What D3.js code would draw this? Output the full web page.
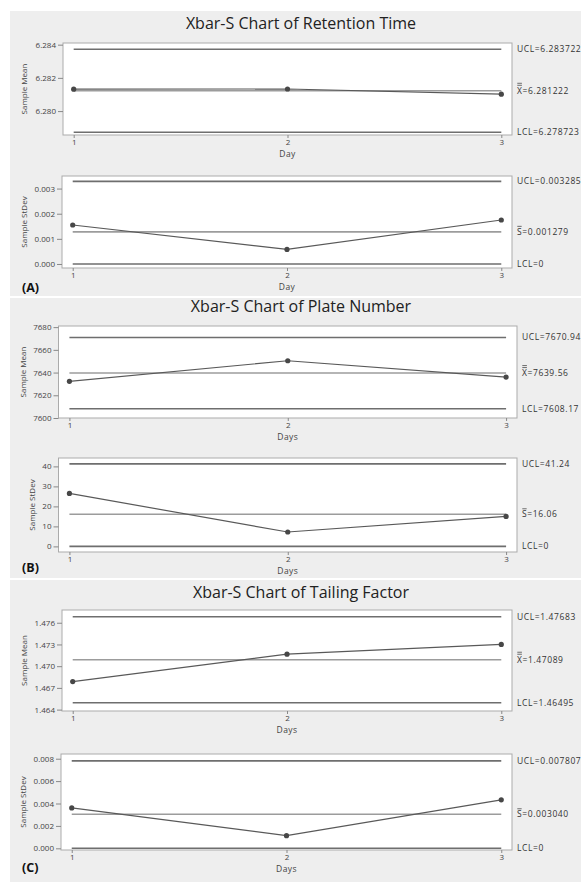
<!DOCTYPE html>
<html>
<head>
<meta charset="utf-8">
<script src="https://cdn.jsdelivr.net/npm/d3@7"></script>
<style>
    body { margin: 0; background: #fff; }
    text { font-family: "Open Sans", sans-serif; }
</style>
</head>
<body>
<svg id="chart" width="581" height="882"></svg>
<script>
// Data
const days = [1, 2, 3];
const panelTitles = ['Xbar-S Chart of Retention Time', 'Xbar-S Chart of Plate Number', 'Xbar-S Chart of Tailing Factor'];
const panelTags = ['(A)', '(B)', '(C)'];
const xTitles = ['Day', 'Days', 'Days'];

// Retention time
const rtMean = [6.28132, 6.28133, 6.28102];
const rtMeanLimits = [6.283722, 6.281222, 6.278723];
const rtMeanLabels = ['UCL=6.283722', '=6.281222', 'LCL=6.278723'];
const rtMeanTicks = [6.280, 6.282, 6.284];
const rtMeanDomain = [6.27856, 6.2841];
const rtSd = [0.00155, 0.00058, 0.00175];
const rtSdLimits = [0.003285, 0.001279, 0];
const rtSdLabels = ['UCL=0.003285', '=0.001279', 'LCL=0'];
const rtSdTicks = [0, 0.001, 0.002, 0.003];
const rtSdDomain = [-0.00016, 0.0035];

// Plate number
const pnMean = [7632.3, 7650.4, 7636.0];
const pnMeanLimits = [7670.94, 7639.56, 7608.17];
const pnMeanLabels = ['UCL=7670.94', '=7639.56', 'LCL=7608.17'];
const pnMeanTicks = [7600, 7620, 7640, 7660, 7680];
const pnMeanDomain = [7600, 7681];
const pnSd = [26.5, 7.2, 15.0];
const pnSdLimits = [41.24, 16.06, 0];
const pnSdLabels = ['UCL=41.24', '=16.06', 'LCL=0'];
const pnSdTicks = [0, 10, 20, 30, 40];
const pnSdDomain = [-2.8, 44.2];

// Tailing factor
const tfMean = [1.46788, 1.47166, 1.47300];
const tfMeanLimits = [1.47683, 1.47089, 1.46495];
const tfMeanLabels = ['UCL=1.47683', '=1.47089', 'LCL=1.46495'];
const tfMeanTicks = [1.464, 1.467, 1.470, 1.473, 1.476];
const tfMeanDomain = [1.46381, 1.47776];
const tfSd = [0.00361, 0.00113, 0.00433];
const tfSdLimits = [0.007807, 0.003040, 0];
const tfSdLabels = ['UCL=0.007807', '=0.003040', 'LCL=0'];
const tfSdTicks = [0, 0.002, 0.004, 0.006, 0.008];
const tfSdDomain = [-0.00015, 0.00842];

// Layout
const panelBoxes = [
    { top: 11, bottom: 296, titleY: 29, tagY: 292 },
    { top: 298, bottom: 578, titleY: 312, tagY: 572 },
    { top: 580, bottom: 882, titleY: 598, tagY: 872 }
];

const charts = [
    { panel: 0, values: rtMean, limits: rtMeanLimits, labels: rtMeanLabels, ticks: rtMeanTicks, domain: rtMeanDomain, fmt: '.3f', yTitle: 'Sample Mean', sym: 'X', bars: 2,
      box: { left: 63, top: 43, right: 512, bottom: 135 }, titleX: 24 },
    { panel: 0, values: rtSd, limits: rtSdLimits, labels: rtSdLabels, ticks: rtSdTicks, domain: rtSdDomain, fmt: '.3f', yTitle: 'Sample StDev', sym: 'S', bars: 1,
      box: { left: 62, top: 176, right: 512, bottom: 268 }, titleX: 24 },
    { panel: 1, values: pnMean, limits: pnMeanLimits, labels: pnMeanLabels, ticks: pnMeanTicks, domain: pnMeanDomain, fmt: 'd', yTitle: 'Sample Mean', sym: 'X', bars: 2,
      box: { left: 58.5, top: 326, right: 517, bottom: 418 }, titleX: 23 },
    { panel: 1, values: pnSd, limits: pnSdLimits, labels: pnSdLabels, ticks: pnSdTicks, domain: pnSdDomain, fmt: 'd', yTitle: 'Sample StDev', sym: 'S', bars: 1,
      box: { left: 58.5, top: 458, right: 517, bottom: 552 }, titleX: 32 },
    { panel: 2, values: tfMean, limits: tfMeanLimits, labels: tfMeanLabels, ticks: tfMeanTicks, domain: tfMeanDomain, fmt: '.3f', yTitle: 'Sample Mean', sym: 'X', bars: 2,
      box: { left: 62, top: 610, right: 512, bottom: 711 }, titleX: 24 },
    { panel: 2, values: tfSd, limits: tfSdLimits, labels: tfSdLabels, ticks: tfSdTicks, domain: tfSdDomain, fmt: '.3f', yTitle: 'Sample StDev', sym: 'S', bars: 1,
      box: { left: 61, top: 754, right: 512, bottom: 850 }, titleX: 23 }
];

const svg = d3.select('#chart');

// Gray panel backgrounds, titles and tags
panelBoxes.forEach((p, i) => {
    svg.append('rect')
        .attr('x', 10).attr('y', p.top)
        .attr('width', 571).attr('height', p.bottom - p.top)
        .attr('fill', '#eeeeee');

    svg.append('text')
        .attr('x', 301).attr('y', p.titleY)
        .attr('text-anchor', 'middle')
        .attr('font-size', '16px')
        .attr('fill', '#222')
        .text(panelTitles[i]);

    svg.append('text')
        .attr('x', 22).attr('y', p.tagY)
        .attr('font-size', '12.5px')
        .attr('font-weight', 'bold')
        .attr('fill', '#111')
        .text(panelTags[i]);
});

const drawChart = c => {
    const b = c.box;
    const x = d3.scaleLinear().domain([0.95, 3.05]).range([b.left, b.right]);
    const y = d3.scaleLinear().domain(c.domain).range([b.bottom, b.top]);

    svg.append('rect')
        .attr('x', b.left).attr('y', b.top)
        .attr('width', b.right - b.left).attr('height', b.bottom - b.top)
        .attr('fill', '#fff')
        .attr('stroke', '#ababab')
        .attr('stroke-width', 1);

    // Y axis
    const yg = svg.append('g')
        .attr('transform', `translate(${b.left},0)`)
        .call(d3.axisLeft(y).tickValues(c.ticks).tickFormat(d3.format(c.fmt)).tickSize(5).tickPadding(2));
    yg.select('.domain').remove();
    yg.selectAll('line').attr('stroke', '#888');
    yg.selectAll('text').attr('font-size', '8px').attr('fill', '#444').attr('font-family', '"Open Sans", sans-serif');

    // X axis
    const xg = svg.append('g')
        .attr('transform', `translate(0,${b.bottom})`)
        .call(d3.axisBottom(x).tickValues(days).tickFormat(d3.format('d')).tickSize(3).tickPadding(1));
    xg.select('.domain').remove();
    xg.selectAll('line').attr('stroke', '#888');
    xg.selectAll('text').attr('font-size', '8px').attr('fill', '#444').attr('font-family', '"Open Sans", sans-serif');

    svg.append('text')
        .attr('x', (b.left + b.right) / 2).attr('y', b.bottom + 22)
        .attr('text-anchor', 'middle')
        .attr('font-size', '8.5px')
        .attr('letter-spacing', '0.4px')
        .attr('fill', '#444')
        .text(xTitles[c.panel]);

    svg.append('text')
        .attr('transform', `translate(${c.titleX},${(b.top + b.bottom) / 2}) rotate(-90)`)
        .attr('text-anchor', 'middle')
        .attr('dy', '0.35em')
        .attr('font-size', '8px')
        .attr('fill', '#444')
        .text(c.yTitle);

    // Control limits and center line
    c.limits.forEach((v, i) => {
        svg.append('line')
            .attr('x1', x(days[0])).attr('x2', x(days[days.length - 1]))
            .attr('y1', y(v)).attr('y2', y(v))
            .attr('stroke', i === 1 ? '#9c9c9c' : '#6e6e6e')
            .attr('stroke-width', 1.6);
    });

    // Data series
    svg.append('path')
        .datum(c.values)
        .attr('d', d3.line().x((d, i) => x(days[i])).y(d => y(d)))
        .attr('fill', 'none')
        .attr('stroke', '#595959')
        .attr('stroke-width', 1.2);

    svg.selectAll(null)
        .data(c.values)
        .enter()
        .append('circle')
        .attr('cx', (d, i) => x(days[i]))
        .attr('cy', d => y(d))
        .attr('r', 2.6)
        .attr('fill', '#474747');

    // Right-hand labels
    c.labels.forEach((lab, i) => {
        const ly = y(c.limits[i]);
        const t = svg.append('text')
            .attr('x', b.right + 5).attr('y', ly + 3)
            .attr('font-size', '8.5px')
            .attr('letter-spacing', '0.6px')
            .attr('fill', '#333');
        if (i === 1) {
            t.append('tspan').text(c.sym);
            t.append('tspan').text(lab);
            const w = t.node().getSubStringLength(0, 1) - 0.6;
            for (let k = 0; k < c.bars; k++) {
                svg.append('line')
                    .attr('x1', b.right + 5.3).attr('x2', b.right + 5 + w)
                    .attr('y1', ly - 5.5 - k * 2).attr('y2', ly - 5.5 - k * 2)
                    .attr('stroke', '#333')
                    .attr('stroke-width', 0.7);
            }
        } else {
            t.text(lab);
        }
    });
};

charts.forEach(drawChart);
</script>
</body>
</html>
